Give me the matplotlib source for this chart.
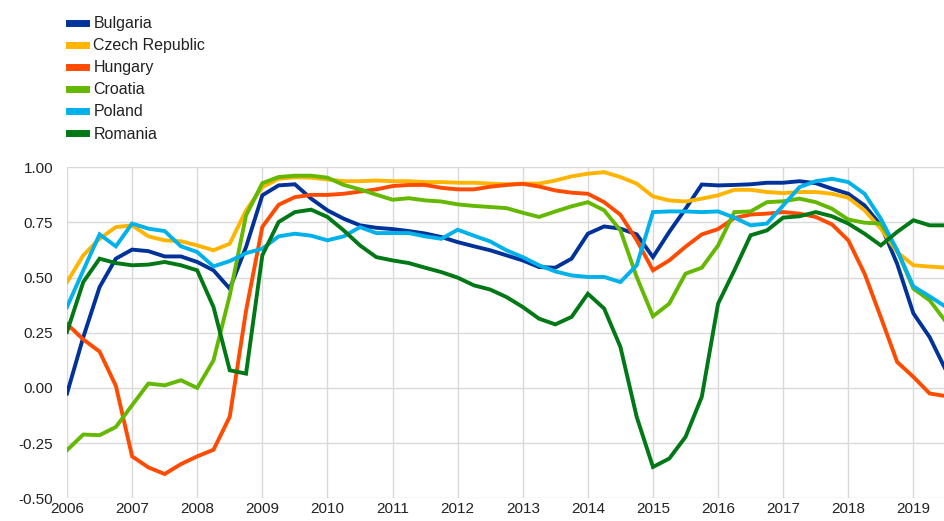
import numpy as np
import matplotlib
matplotlib.use("Agg")
import matplotlib.pyplot as plt

plt.rcParams['font.family'] = ['Liberation Sans', 'DejaVu Sans']
plt.rcParams['axes.unicode_minus'] = False

# quarterly observations, 2006Q1 .. 2019Q3
quarters = np.arange(2006.0, 2019.51, 0.25)

bulgaria = [
    -0.025, 0.23, 0.457, 0.586, 0.627, 0.62, 0.596, 0.596,
    0.571, 0.533, 0.45, 0.639, 0.873, 0.918, 0.923, 0.858,
    0.805, 0.767, 0.737, 0.726, 0.72, 0.711, 0.70, 0.684,
    0.661, 0.642, 0.624, 0.601, 0.578, 0.548, 0.545, 0.586,
    0.699, 0.732, 0.722, 0.696, 0.593, 0.707, 0.812, 0.922,
    0.918, 0.92, 0.923, 0.93, 0.93, 0.937, 0.928, 0.903,
    0.88, 0.827, 0.737, 0.563, 0.338, 0.23, 0.08,
]
czech = [
    0.48, 0.601, 0.676, 0.729, 0.737, 0.687, 0.669, 0.665,
    0.646, 0.624, 0.654, 0.805, 0.91, 0.948, 0.955, 0.953,
    0.945, 0.937, 0.937, 0.94, 0.937, 0.937, 0.933, 0.933,
    0.93, 0.93, 0.926, 0.923, 0.926, 0.926, 0.94, 0.959,
    0.971, 0.978, 0.956, 0.926, 0.868, 0.85, 0.845, 0.858,
    0.873, 0.898, 0.898, 0.888, 0.883, 0.888, 0.888, 0.88,
    0.862, 0.805, 0.722, 0.616, 0.556, 0.55, 0.545,
]
hungary = [
    0.29, 0.22, 0.165, 0.01, -0.31, -0.36, -0.39, -0.345,
    -0.31, -0.28, -0.13, 0.35, 0.73, 0.83, 0.865, 0.875,
    0.875, 0.88, 0.89, 0.90, 0.915, 0.92, 0.92, 0.907,
    0.90, 0.90, 0.912, 0.92, 0.925, 0.913, 0.895, 0.885,
    0.88, 0.842, 0.785, 0.67, 0.533, 0.578, 0.64, 0.696,
    0.72, 0.77, 0.786, 0.79, 0.797, 0.79, 0.775, 0.741,
    0.669, 0.518, 0.32, 0.118, 0.05, -0.025, -0.037,
]
croatia = [
    -0.282, -0.211, -0.214, -0.177, -0.078, 0.02, 0.012, 0.035,
    0.0, 0.125, 0.42, 0.782, 0.928, 0.956, 0.962, 0.962,
    0.953, 0.92, 0.90, 0.876, 0.853, 0.86, 0.85, 0.845,
    0.832, 0.825, 0.82, 0.815, 0.794, 0.775, 0.80, 0.823,
    0.842, 0.805, 0.714, 0.503, 0.325, 0.382, 0.518, 0.545,
    0.646, 0.797, 0.80, 0.842, 0.846, 0.858, 0.842, 0.812,
    0.763, 0.749, 0.745, 0.624, 0.45, 0.397, 0.30,
]
poland = [
    0.367, 0.533, 0.696, 0.642, 0.745, 0.722, 0.711, 0.642,
    0.616, 0.551, 0.575, 0.611, 0.631, 0.687, 0.699, 0.69,
    0.669, 0.687, 0.729, 0.702, 0.702, 0.702, 0.687, 0.676,
    0.717, 0.69, 0.664, 0.624, 0.593, 0.556, 0.528, 0.51,
    0.503, 0.503, 0.48, 0.556, 0.797, 0.80, 0.80, 0.797,
    0.80, 0.772, 0.737, 0.745, 0.827, 0.91, 0.937, 0.948,
    0.933, 0.88, 0.767, 0.624, 0.46, 0.415, 0.367,
]
romania = [
    0.254, 0.48, 0.586, 0.566, 0.556, 0.559, 0.571, 0.556,
    0.533, 0.367, 0.08, 0.065, 0.601, 0.752, 0.797, 0.808,
    0.775, 0.714, 0.646, 0.593, 0.578, 0.566, 0.545, 0.525,
    0.50, 0.465, 0.446, 0.412, 0.367, 0.314, 0.288, 0.322,
    0.427, 0.36, 0.186, -0.131, -0.358, -0.32, -0.222, -0.04,
    0.382, 0.533, 0.692, 0.714, 0.772, 0.778, 0.797, 0.778,
    0.745, 0.699, 0.646, 0.707, 0.76, 0.737, 0.737,
]

series = [
    ("Bulgaria", bulgaria, "#003299"),
    ("Czech Republic", czech, "#FFB400"),
    ("Hungary", hungary, "#FF4B00"),
    ("Croatia", croatia, "#65B800"),
    ("Poland", poland, "#00B1EA"),
    ("Romania", romania, "#007816"),
]

fig = plt.figure(figsize=(9.44, 5.21), dpi=100)
ax = fig.add_axes([67 / 944, 22.7 / 521, 1 - 67 / 944, 331 / 521])

for name, vals, col in series:
    ax.plot(quarters, vals, color=col, lw=2.8, label=name, solid_joinstyle='miter')

ax.set_xlim(2006, 2019.47)
ax.set_ylim(-0.5, 1.0)
ax.set_xticks(range(2006, 2020))
ax.set_yticks(np.arange(-0.5, 1.01, 0.25))
ax.yaxis.set_major_formatter(matplotlib.ticker.FormatStrFormatter('%.2f'))
ax.grid(True, color='#d9d9d9', lw=1)
ax.set_axisbelow(True)
for s in ax.spines.values():
    s.set_visible(False)
ax.tick_params(length=0, labelsize=11, colors='#222222')
ax.tick_params(axis='x', pad=3)
ax.tick_params(axis='y', pad=10)

handles, labels = ax.get_legend_handles_labels()
leg = fig.legend(handles, labels, loc='upper left', bbox_to_anchor=(55 / 944, 1 - 2 / 521),
                 frameon=False, fontsize=11.5, handlelength=1.05, handletextpad=0.45,
                 labelspacing=0.44)
for h in leg.get_lines():
    h.set_linewidth(5)
for t in leg.get_texts():
    t.set_color('#222222')

fig.savefig("out.png", dpi=100)
